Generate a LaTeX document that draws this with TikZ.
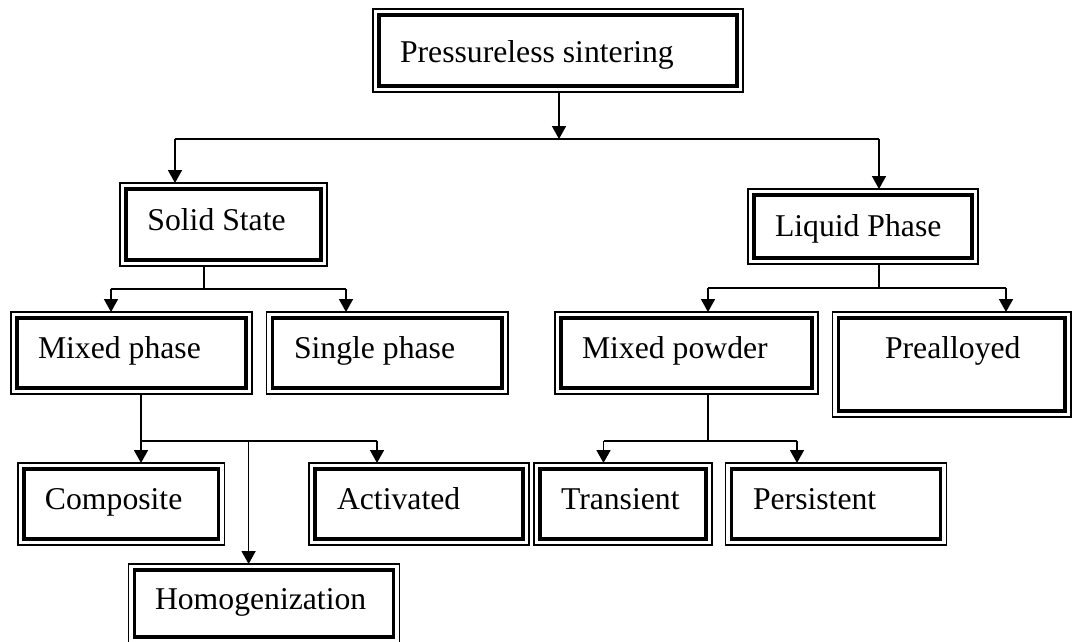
\documentclass[tikz,border=0pt]{standalone}
\usepackage{fontspec}
\setmainfont{Liberation Serif}
\usetikzlibrary{arrows.meta}
\newcommand\mybox[8]{%
  \pgfmathsetmacro\bw{#4-#2}\pgfmathsetmacro\bh{#5-#3}%
  \pgfmathsetmacro\bxs{#6-#2}\pgfmathsetmacro\btw{#4-#2-2*(#6-#2)}%
  \pgfmathsetmacro\bth{#7-#3}\pgfmathsetmacro\btd{#5-#7}%
  \node[box, minimum width=\bw pt, minimum height=\bh pt, inner xsep=\bxs pt,
        text height=\bth pt, text depth=\btd pt] (#1) at (#2,#3) {\makebox[\btw pt][l]{#8}};
  \draw[innerline] ([shift={(6,6)}]#1.north west) rectangle ([shift={(-6,-6)}]#1.south east);
}
\begin{document}
\begin{tikzpicture}[x=1pt,y=-1pt,
  box/.style={draw=black, line width=1.3pt, rectangle, anchor=north west, inner ysep=0pt,
              outer sep=0pt, font=\fontsize{31.7}{38}\selectfont},
  innerline/.style={line width=3.2pt},
  ln/.style={line width=1.7pt},
  arr/.style={line width=1.7pt, -{Triangle[length=13pt,width=14pt]}}]
\useasboundingbox (0,0) rectangle (1072,642);
\fill[white] (0,0) rectangle (1072,642);

\mybox{ps}{373}{9}{743}{92}{400}{63}{Pressureless sintering}
\mybox{ss}{120}{183}{327}{266}{147.4}{230}{Solid State}
\mybox{lp}{748}{189}{978}{264}{775}{236}{Liquid Phase}
\mybox{mp}{11}{312}{252}{394}{38}{358}{Mixed phase}
\mybox{sp}{266.5}{312}{508}{394}{294}{358}{Single phase}
\mybox{mpow}{555}{312}{818}{394}{582}{358}{Mixed powder}
\mybox{pre}{832.5}{312}{1071}{417}{885}{358}{Prealloyed}
\mybox{comp}{18}{463}{224.5}{545}{45}{509}{Composite}
\mybox{act}{309}{463}{529}{545}{337}{509}{Activated}
\mybox{tra}{534}{463}{712}{545}{561}{509}{Transient}
\mybox{per}{725.6}{463}{946.5}{545}{753}{509}{Persistent}
\mybox{hom}{128.4}{564}{399.4}{643}{155}{609}{Homogenization}

% top level
\coordinate (j0) at (559,139);
\coordinate (jl) at (175,139);
\coordinate (jr) at (879,139);
\draw[arr] (j0 |- ps.south) -- (j0);
\draw[ln] (jl) -- (jr);
\draw[arr] (jl) -- (jl |- ss.north);
\draw[arr] (jr) -- (jr |- lp.north);

% solid state
\coordinate (s0) at (204,289);
\coordinate (sl) at (111,289);
\coordinate (sr) at (346,289);
\draw[ln] (s0 |- ss.south) -- (s0);
\draw[ln] (sl) -- (sr);
\draw[arr] (sl) -- (sl |- mp.north);
\draw[arr] (sr) -- (sr |- sp.north);

% liquid phase
\coordinate (l0) at (879,288);
\coordinate (ll) at (708,288);
\coordinate (lr) at (1006,288);
\draw[ln] (l0 |- lp.south) -- (l0);
\draw[ln] (ll) -- (lr);
\draw[arr] (ll) -- (ll |- mpow.north);
\draw[arr] (lr) -- (lr |- pre.north);

% mixed phase
\coordinate (m0) at (141,441);
\coordinate (mr) at (377,441);
\coordinate (mh) at (248.6,441);
\draw[ln] (m0 |- mp.south) -- (m0);
\draw[ln] (m0) -- (mr);
\draw[arr] (m0) -- (m0 |- comp.north);
\draw[arr] (mr) -- (mr |- act.north);
\draw[arr] (mh) -- (mh |- hom.north);

% mixed powder
\coordinate (p0) at (708,441);
\coordinate (pl) at (603.5,441);
\coordinate (pr) at (797,441);
\draw[ln] (p0 |- mpow.south) -- (p0);
\draw[ln] (pl) -- (pr);
\draw[arr] (pl) -- (pl |- tra.north);
\draw[arr] (pr) -- (pr |- per.north);
\end{tikzpicture}
\end{document}
